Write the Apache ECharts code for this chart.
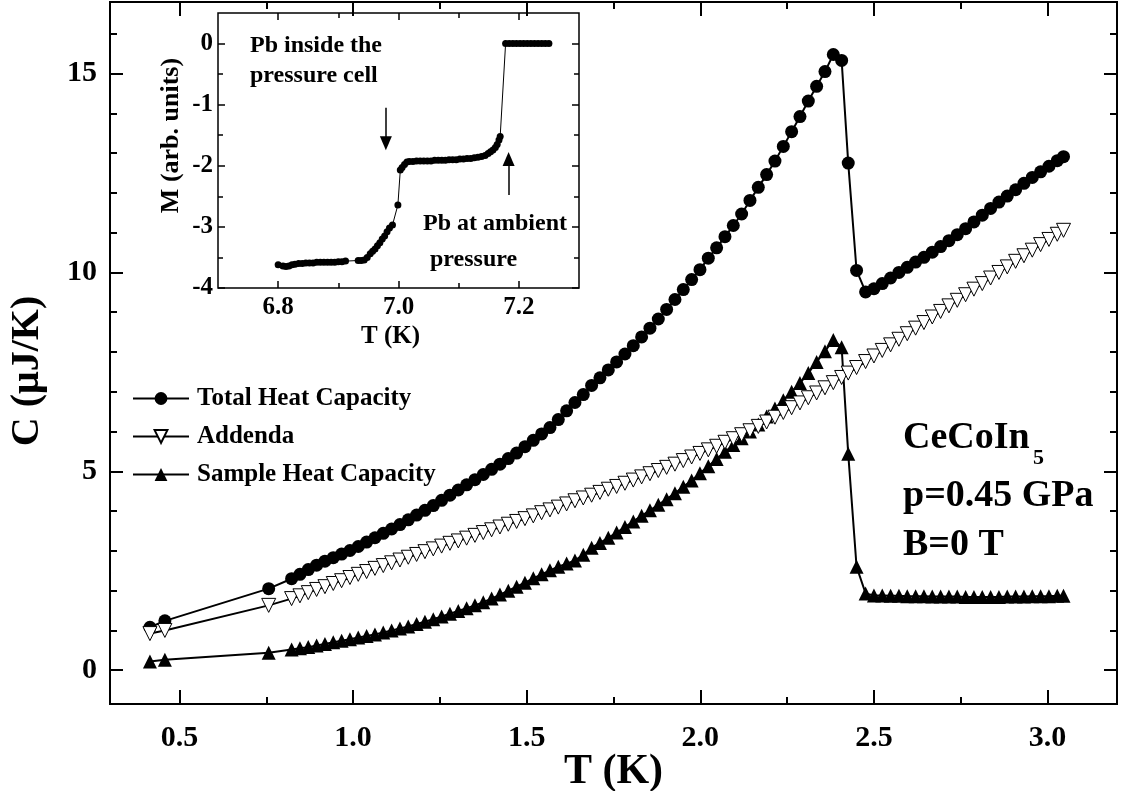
<!DOCTYPE html>
<html><head><meta charset="utf-8">
<script src="https://cdn.jsdelivr.net/npm/echarts@6/dist/echarts.min.js"></script>
<style>html,body{margin:0;padding:0;background:#fff}#c{width:1123px;height:791px}</style>
</head><body><div id="c"></div>
<script>
// ---- main panel data: T (K) ----
const temperature = [0.415, 0.458, 0.757,
 0.823, 0.847, 0.871, 0.895, 0.919, 0.943, 0.967, 0.991, 1.015, 1.039, 1.063, 1.087, 1.111, 1.135, 1.159, 1.183, 1.207, 1.231, 1.255, 1.279, 1.303, 1.327, 1.351, 1.375, 1.399, 1.423, 1.447, 1.471, 1.495, 1.519, 1.543, 1.567, 1.591, 1.615, 1.639, 1.663, 1.687, 1.711, 1.735, 1.759, 1.783, 1.807, 1.831, 1.855, 1.879, 1.903, 1.927, 1.951, 1.975, 1.999, 2.023, 2.047, 2.071, 2.095, 2.119, 2.143, 2.167, 2.191, 2.215, 2.239, 2.263, 2.287, 2.311, 2.335, 2.359, 2.383,
 2.407, 2.426, 2.450, 2.476,
 2.500, 2.524, 2.548, 2.572, 2.596, 2.620, 2.644, 2.668, 2.692, 2.716, 2.740, 2.764, 2.788, 2.812, 2.836, 2.860, 2.884, 2.908, 2.932, 2.956, 2.980, 3.004, 3.028, 3.046];
// C (uJ/K)
const totalHeatCapacity = [1.08, 1.24, 2.05,
 2.30, 2.41, 2.53, 2.64, 2.74, 2.83, 2.92, 3.01, 3.11, 3.22, 3.33, 3.44, 3.55, 3.66, 3.78, 3.90, 4.02, 4.14, 4.27, 4.40, 4.53, 4.66, 4.79, 4.92, 5.05, 5.18, 5.32, 5.46, 5.62, 5.78, 5.94, 6.10, 6.30, 6.52, 6.73, 6.93, 7.16, 7.35, 7.55, 7.75, 7.95, 8.16, 8.38, 8.60, 8.83, 9.07, 9.32, 9.57, 9.82, 10.07, 10.36, 10.62, 10.90, 11.18, 11.47, 11.81, 12.14, 12.46, 12.80, 13.17, 13.54, 13.92, 14.31, 14.68, 15.05, 15.48,
 15.33, 12.75, 10.05, 9.51,
 9.59, 9.72, 9.86, 10.00, 10.13, 10.26, 10.38, 10.51, 10.65, 10.80, 10.95, 11.10, 11.27, 11.44, 11.61, 11.77, 11.92, 12.08, 12.24, 12.39, 12.53, 12.67, 12.81, 12.91];
const addenda = [0.92, 1.00, 1.63,
 1.80, 1.87, 1.95, 2.03, 2.10, 2.18, 2.25, 2.33, 2.41, 2.48, 2.56, 2.63, 2.70, 2.77, 2.84, 2.91, 2.98, 3.05, 3.12, 3.19, 3.25, 3.32, 3.39, 3.46, 3.53, 3.60, 3.67, 3.74, 3.81, 3.88, 3.96, 4.03, 4.10, 4.18, 4.26, 4.33, 4.40, 4.47, 4.55, 4.62, 4.70, 4.78, 4.86, 4.94, 5.02, 5.10, 5.18, 5.27, 5.36, 5.45, 5.54, 5.63, 5.73, 5.82, 5.92, 6.02, 6.13, 6.24, 6.36, 6.48, 6.60, 6.72, 6.85, 6.97, 7.10, 7.23,
 7.36, 7.47, 7.61, 7.76,
 7.90, 8.04, 8.18, 8.32, 8.46, 8.60, 8.74, 8.88, 9.02, 9.16, 9.30, 9.44, 9.58, 9.72, 9.86, 10.00, 10.14, 10.28, 10.42, 10.56, 10.70, 10.83, 10.96, 11.06];
const sampleHeatCapacity = [0.22, 0.26, 0.44,
 0.52, 0.55, 0.58, 0.62, 0.66, 0.70, 0.74, 0.78, 0.82, 0.86, 0.90, 0.95, 1.00, 1.05, 1.10, 1.16, 1.22, 1.28, 1.35, 1.42, 1.49, 1.56, 1.63, 1.71, 1.80, 1.90, 2.00, 2.10, 2.20, 2.31, 2.41, 2.51, 2.60, 2.68, 2.76, 2.90, 3.08, 3.20, 3.33, 3.46, 3.60, 3.74, 3.88, 4.02, 4.16, 4.30, 4.45, 4.61, 4.77, 4.95, 5.13, 5.31, 5.49, 5.66, 5.83, 6.00, 6.18, 6.38, 6.58, 6.79, 7.00, 7.22, 7.47, 7.75, 8.02, 8.30,
 8.12, 5.44, 2.60, 1.93,
 1.88, 1.88, 1.87, 1.87, 1.86, 1.86, 1.86, 1.85, 1.85, 1.85, 1.85, 1.84, 1.84, 1.84, 1.84, 1.84, 1.85, 1.85, 1.85, 1.86, 1.86, 1.86, 1.87, 1.87];

// ---- inset data: T (K), M (arb. units) ----
const insetTemperature = [6.800, 6.808, 6.813, 6.818, 6.823, 6.828, 6.834, 6.840, 6.846, 6.852, 6.858, 6.864, 6.870, 6.876, 6.882, 6.888, 6.894, 6.900, 6.906, 6.912,
 6.933, 6.938, 6.943, 6.948, 6.953, 6.957, 6.961, 6.965, 6.969, 6.973, 6.977, 6.981, 6.985, 6.990, 6.999, 7.003, 7.006, 7.010, 7.014, 7.018,
 7.024, 7.030, 7.036, 7.042, 7.048, 7.054, 7.060, 7.066, 7.072, 7.078, 7.084, 7.090, 7.096, 7.102, 7.108, 7.114, 7.120, 7.126, 7.132, 7.138,
 7.144, 7.149, 7.153, 7.157, 7.161, 7.164, 7.167, 7.169,
 7.178, 7.184, 7.190, 7.196, 7.202, 7.208, 7.214, 7.220, 7.226, 7.232, 7.238, 7.244, 7.250];
const insetMagnetization = [-3.62, -3.64, -3.65, -3.64, -3.62, -3.61, -3.60, -3.60, -3.59, -3.59, -3.59, -3.58, -3.58, -3.58, -3.58, -3.58, -3.58, -3.57, -3.57, -3.56,
 -3.55, -3.55, -3.54, -3.50, -3.44, -3.40, -3.36, -3.31, -3.26, -3.20, -3.15, -3.08, -3.02, -2.97, -2.64, -2.07, -2.03, -1.98, -1.94, -1.93,
 -1.93, -1.92, -1.92, -1.92, -1.92, -1.92, -1.91, -1.91, -1.91, -1.91, -1.90, -1.90, -1.90, -1.89, -1.89, -1.88, -1.88, -1.87, -1.86, -1.85,
 -1.83, -1.80, -1.77, -1.74, -1.70, -1.65, -1.58, -1.52,
 0, 0, 0, 0, 0, 0, 0, 0, 0, 0, 0, 0, 0];
// inset arrows: [T, tail M, head M]
const arrowInsideCell = [6.979, -1.05, -1.63];
const arrowAmbient = [7.183, -2.48, -1.89];

// ---- ticks ----
const xMajorTicks = [0.5, 1.0, 1.5, 2.0, 2.5, 3.0];
const xMinorTicks = [0.75, 1.25, 1.75, 2.25, 2.75];
const yMajorTicks = [0, 5, 10, 15];
const yMinorTicks = [1, 2, 3, 4, 6, 7, 8, 9, 11, 12, 13, 14, 16];
const insetXMajorTicks = [6.8, 7.0, 7.2];
const insetXMinorTicks = [6.9, 7.1];
const insetYMajorTicks = [-4, -3, -2, -1, 0];
const insetYMinorTicks = [-3.5, -2.5, -1.5, -0.5];

const FONT = '"Liberation Serif","Times New Roman",serif';
const pairs = (xs, ys) => xs.map((x, i) => [x, ys[i]]);

function axis(gridIndex, min, max, position, ticks, len, width, label, name) {
  const a = {
    gridIndex, type: 'value', min, max, position,
    axisLine: { show: false, onZero: false },
    splitLine: { show: false },
    axisTick: { show: true, inside: true, length: len, customValues: ticks, lineStyle: { color: '#000', width } },
    axisLabel: { show: false }
  };
  if (label) a.axisLabel = Object.assign({ show: true, customValues: ticks, color: '#000', fontFamily: FONT, fontWeight: 'bold' }, label);
  if (name) Object.assign(a, { nameMoveOverlap: false }, name);
  return a;
}

const xAxis = [
  axis(0, 0.3, 3.2, 'bottom', xMajorTicks, 14, 2, { fontSize: 30, margin: 19, formatter: v => v.toFixed(1) },
    { name: 'T (K)', nameLocation: 'middle', nameGap: 47, nameTextStyle: { fontFamily: FONT, fontWeight: 'bold', fontSize: 42, color: '#000' } }),
  axis(0, 0.3, 3.2, 'bottom', xMinorTicks, 7, 2),
  axis(0, 0.3, 3.2, 'top', xMajorTicks, 14, 2),
  axis(0, 0.3, 3.2, 'top', xMinorTicks, 7, 2),
  axis(1, 6.7, 7.3, 'bottom', insetXMajorTicks, 7, 1.5, { fontSize: 25, margin: 7, formatter: v => v.toFixed(1) },
    { name: 'T (K)', nameLocation: 'middle', nameGap: 36, nameTextStyle: { fontFamily: FONT, fontWeight: 'bold', fontSize: 25, color: '#000', padding: [0, 16, 0, 0] } }),
  axis(1, 6.7, 7.3, 'bottom', insetXMinorTicks, 5, 1.5),
  axis(1, 6.7, 7.3, 'top', insetXMajorTicks, 7, 1.5),
  axis(1, 6.7, 7.3, 'top', insetXMinorTicks, 5, 1.5)
];
const yAxis = [
  axis(0, -0.85, 16.8, 'left', yMajorTicks, 13, 2, { fontSize: 30, margin: 13, formatter: v => String(v) },
    { name: 'C (\u03bcJ/K)', nameLocation: 'middle', nameGap: 62, nameTextStyle: { fontFamily: FONT, fontWeight: 'bold', fontSize: 40, color: '#000', padding: [0, 36, 0, 0] } }),
  axis(0, -0.85, 16.8, 'left', yMinorTicks, 7, 2),
  axis(0, -0.85, 16.8, 'right', yMajorTicks, 13, 2),
  axis(0, -0.85, 16.8, 'right', yMinorTicks, 7, 2),
  axis(1, -4, 0.5, 'left', insetYMajorTicks, 7, 1.5, { fontSize: 25, margin: 5, formatter: v => String(v) },
    { name: 'M (arb. units)', nameLocation: 'middle', nameGap: 34, nameTextStyle: { fontFamily: FONT, fontWeight: 'bold', fontSize: 26, color: '#000', padding: [0, 0, 0, 30] } }),
  axis(1, -4, 0.5, 'left', insetYMinorTicks, 5, 1.5),
  axis(1, -4, 0.5, 'right', insetYMajorTicks, 7, 1.5),
  axis(1, -4, 0.5, 'right', insetYMinorTicks, 5, 1.5)
];

const boldText = (text, x, y, size) => ({
  type: 'text', x, y, silent: true,
  style: { text, font: 'bold ' + size + 'px ' + FONT, fill: '#000', align: 'left', verticalAlign: 'middle', textAlign: 'left', textVerticalAlign: 'middle' }
});

const option = {
  animation: false,
  backgroundColor: '#fff',
  grid: [
    { left: 110, top: 2, right: 6, bottom: 87, show: true, borderColor: '#000', borderWidth: 2, backgroundColor: 'transparent', outerBoundsMode: 'none', containLabel: false },
    { left: 218, top: 13, width: 361, height: 275, show: true, borderColor: '#000', borderWidth: 1.5, backgroundColor: '#fff', outerBoundsMode: 'none', containLabel: false }
  ],
  xAxis, yAxis,
  legend: {
    data: ['Total Heat Capacity', 'Addenda', 'Sample Heat Capacity'],
    orient: 'vertical', left: 127, top: 381, itemWidth: 56, itemHeight: 16, itemGap: 13,
    textStyle: { fontFamily: FONT, fontWeight: 'bold', fontSize: 25, color: '#000', padding: [0, 0, 0, 3] },
    selectedMode: false
  },
  series: [
    { name: 'Total Heat Capacity', type: 'line', xAxisIndex: 0, yAxisIndex: 0, data: pairs(temperature, totalHeatCapacity),
      symbol: 'circle', symbolSize: 13, itemStyle: { color: '#000' }, lineStyle: { color: '#000', width: 2 }, z: 3 },
    { name: 'Sample Heat Capacity', type: 'line', xAxisIndex: 0, yAxisIndex: 0, data: pairs(temperature, sampleHeatCapacity),
      symbol: 'triangle', symbolSize: 14, itemStyle: { color: '#000' }, lineStyle: { color: '#000', width: 2 }, z: 4 },
    { name: 'Addenda', type: 'line', xAxisIndex: 0, yAxisIndex: 0, data: pairs(temperature, addenda),
      symbol: 'triangle', symbolRotate: 180, symbolSize: 14, itemStyle: { color: '#fff', borderColor: '#000', borderWidth: 1 },
      lineStyle: { color: '#000', width: 2 }, z: 5 },
    { name: 'Pb', type: 'line', xAxisIndex: 4, yAxisIndex: 4, data: pairs(insetTemperature, insetMagnetization),
      symbol: 'circle', symbolSize: 7, itemStyle: { color: '#000' }, lineStyle: { color: '#000', width: 1 }, z: 6,
      markLine: {
        silent: true, symbol: ['none', 'triangle'], symbolSize: [12, 14], animation: false,
        lineStyle: { color: '#000', width: 1.5, type: 'solid' }, itemStyle: { color: '#000' }, label: { show: false },
        data: [
          [{ coord: [arrowInsideCell[0], arrowInsideCell[1]] }, { coord: [arrowInsideCell[0], arrowInsideCell[2]] }],
          [{ coord: [arrowAmbient[0], arrowAmbient[1]] }, { coord: [arrowAmbient[0], arrowAmbient[2]] }]
        ]
      } }
  ],
  graphic: [
    boldText('Pb inside the', 250, 46, 24),
    boldText('pressure cell', 250, 76, 24),
    boldText('Pb at ambient', 423, 224, 24),
    boldText('pressure', 430, 260, 24),
    boldText('CeCoIn', 903, 438, 38),
    boldText('5', 1033, 458, 22),
    boldText('p=0.45 GPa', 903, 496, 38),
    boldText('B=0 T', 903, 545, 38)
  ]
};

const chart = echarts.init(document.getElementById('c'), null, { renderer: 'canvas' });
chart.setOption(option);
</script></body></html>
